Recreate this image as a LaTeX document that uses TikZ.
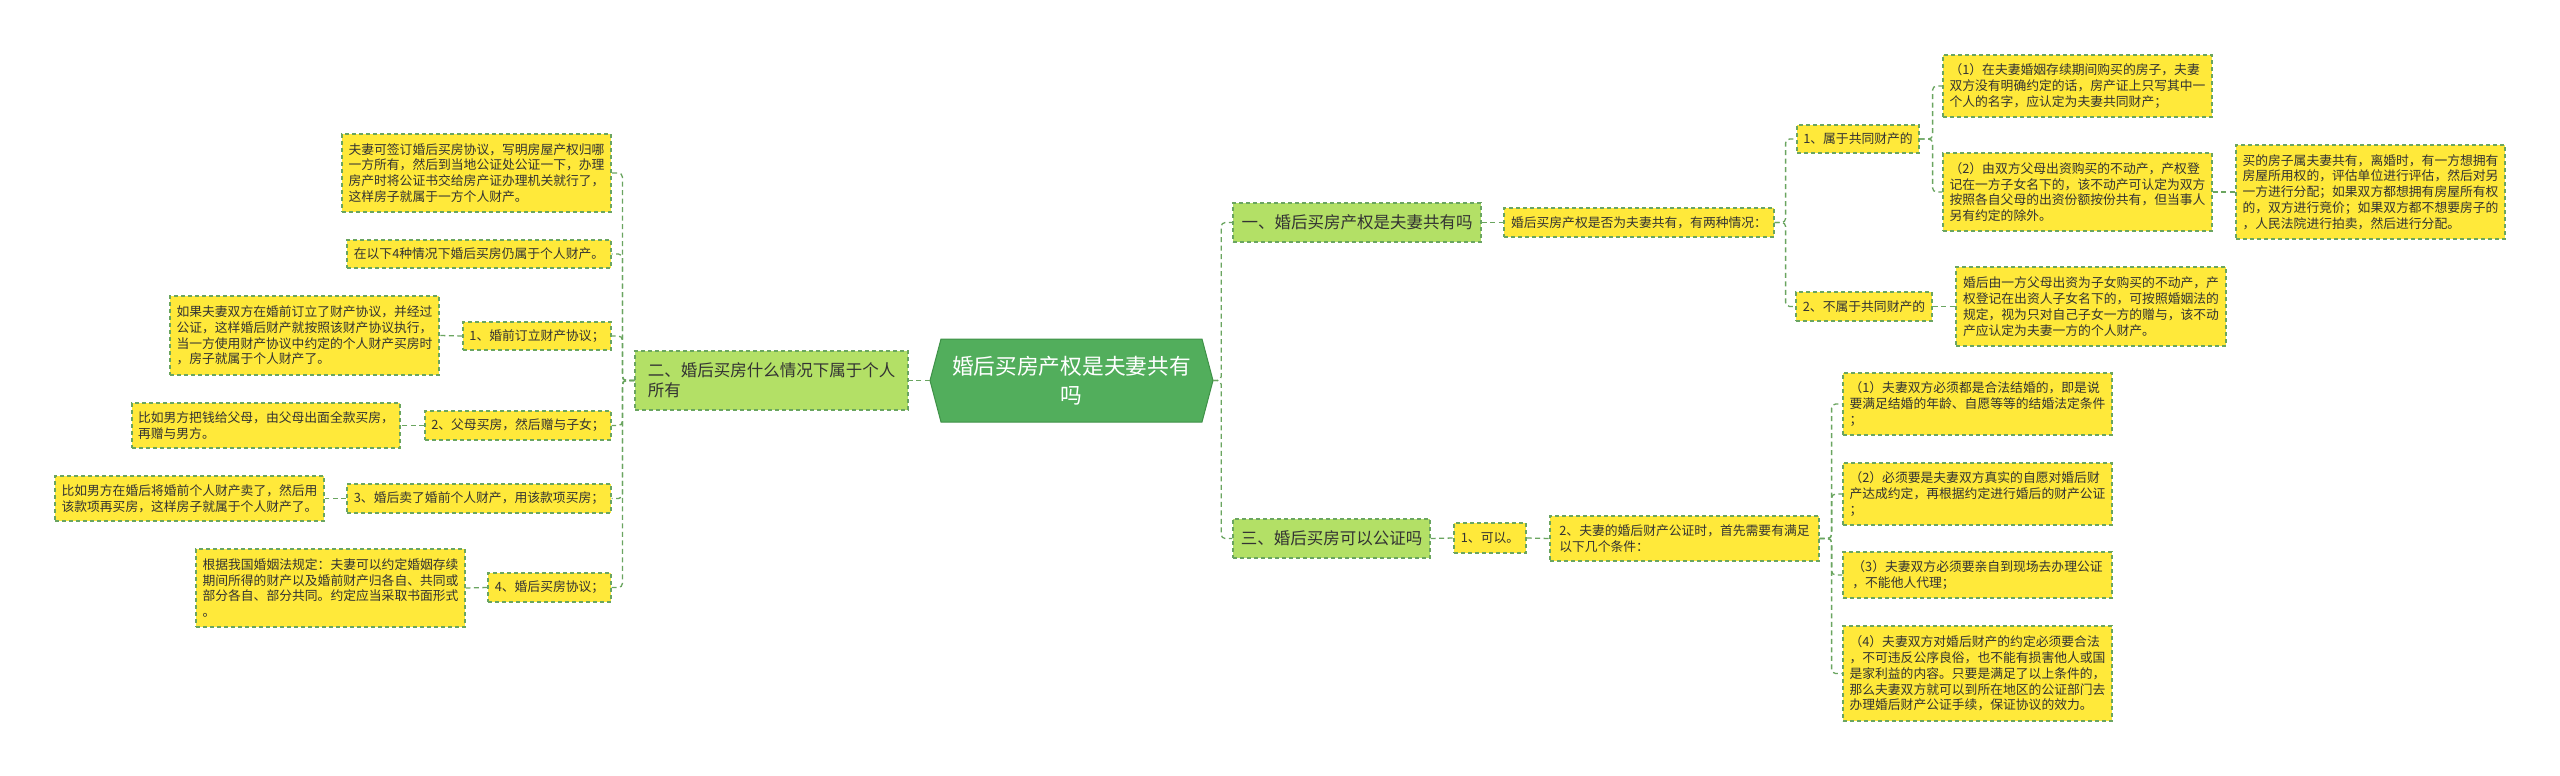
\documentclass[tikz,border=0pt]{standalone}
\usepackage{fontspec}
\setmainfont{Noto Sans CJK SC}
\definecolor{yel}{HTML}{FFE93A}
\definecolor{lgr}{HTML}{B3E066}
\definecolor{bdr}{HTML}{6AA560}
\definecolor{cgr}{HTML}{52AE5C}
\definecolor{cbd}{HTML}{3F9148}
\definecolor{txt}{HTML}{333333}
\tikzset{
  conn/.style={draw=bdr, line width=1.3pt, dash pattern=on 5pt off 3.5pt, rounded corners=4pt},
  boxbase/.style={draw=bdr, line width=1.2pt, dash pattern=on 4pt off 3pt, inner sep=0pt, align=left, text=txt},
  ybox/.style={boxbase, fill=yel, font=\fontsize{12.8}{15.8}\selectfont},
  gbox/.style={boxbase, fill=lgr, font=\fontsize{16.5}{20}\selectfont},
}
\newcommand\bx[7]{\node[#6, minimum width={#4-#2}, minimum height={#5-#3}] (#1) at ({(#2+#4)/2},{(#3+#5)/2}) {#7};}
\begin{document}
\begin{tikzpicture}[x=1pt,y=-1pt]
\fill[white] (0,0) rectangle (2560,776);
\useasboundingbox (0,0) rectangle (2560,776);
% central
\draw[fill=cgr, draw=cbd, line width=1pt] (930,380.5) -- (941,339) -- (1202,339) -- (1213,380.5) -- (1202,422) -- (941,422) -- cycle;
\node[minimum width=283, minimum height=83, inner sep=0pt, align=center, text=white, font=\fontsize{21.7}{29}\selectfont] (c) at (1071.5,380.5) {婚后买房产权是夫妻共有\\吗};
% left side
\bx{er}{635}{351}{908}{410}{gbox}{二、婚后买房什么情况下属于个人\\所有}
\bx{A}{342}{134}{611}{212}{ybox}{夫妻可签订婚后买房协议，写明房屋产权归哪\\一方所有，然后到当地公证处公证一下，办理\\房产时将公证书交给房产证办理机关就行了，\\这样房子就属于一方个人财产。}
\bx{B}{347}{240}{611}{268}{ybox}{在以下4种情况下婚后买房仍属于个人财产。}
\bx{D}{463}{322}{611}{350}{ybox}{1、婚前订立财产协议；}
\bx{C}{170}{296}{439}{375}{ybox}{如果夫妻双方在婚前订立了财产协议，并经过\\公证，这样婚后财产就按照该财产协议执行，\\当一方使用财产协议中约定的个人财产买房时\\，房子就属于个人财产了。}
\bx{F}{425}{411}{611}{440}{ybox}{2、父母买房，然后赠与子女；}
\bx{E}{132}{403}{400}{448}{ybox}{比如男方把钱给父母，由父母出面全款买房，\\再赠与男方。}
\bx{H}{347}{484}{611}{513}{ybox}{3、婚后卖了婚前个人财产，用该款项买房；}
\bx{G}{55}{476}{324}{521}{ybox}{比如男方在婚后将婚前个人财产卖了，然后用\\该款项再买房，这样房子就属于个人财产了。}
\bx{J}{488}{573}{611}{602}{ybox}{4、婚后买房协议；}
\bx{I}{196}{549}{465}{627}{ybox}{根据我国婚姻法规定：夫妻可以约定婚姻存续\\期间所得的财产以及婚前财产归各自、共同或\\部分各自、部分共同。约定应当采取书面形式\\。}
% right side
\bx{one}{1233}{203}{1481}{242}{gbox}{一、婚后买房产权是夫妻共有吗}
\bx{q}{1504}{208}{1774}{237}{ybox}{婚后买房产权是否为夫妻共有，有两种情况：}
\bx{pa}{1797}{125}{1919}{153}{ybox}{1、属于共同财产的}
\bx{pb}{1796}{292}{1932}{321}{ybox}{2、不属于共同财产的}
\bx{sa}{1943}{55}{2212}{117}{ybox}{（1）在夫妻婚姻存续期间购买的房子，夫妻\\双方没有明确约定的话，房产证上只写其中一\\个人的名字，应认定为夫妻共同财产；}
\bx{sb}{1943}{153}{2212}{231}{ybox}{（2）由双方父母出资购买的不动产，产权登\\记在一方子女名下的，该不动产可认定为双方\\按照各自父母的出资份额按份共有，但当事人\\另有约定的除外。}
\bx{t}{2236}{145}{2505}{239}{ybox}{买的房子属夫妻共有，离婚时，有一方想拥有\\房屋所用权的，评估单位进行评估，然后对另\\一方进行分配；如果双方都想拥有房屋所有权\\的，双方进行竞价；如果双方都不想要房子的\\，人民法院进行拍卖，然后进行分配。}
\bx{u}{1956}{267}{2226}{346}{ybox}{婚后由一方父母出资为子女购买的不动产，产\\权登记在出资人子女名下的，可按照婚姻法的\\规定，视为只对自己子女一方的赠与，该不动\\产应认定为夫妻一方的个人财产。}
\bx{three}{1233}{519}{1430}{558}{gbox}{三、婚后买房可以公证吗}
\bx{ka}{1454}{523}{1526}{553}{ybox}{1、可以。}
\bx{kb}{1550}{516}{1819}{561}{ybox}{2、夫妻的婚后财产公证时，首先需要有满足\\以下几个条件：}
\bx{ra}{1843}{373}{2112}{435}{ybox}{（1）夫妻双方必须都是合法结婚的，即是说\\要满足结婚的年龄、自愿等等的结婚法定条件\\；}
\bx{rb}{1843}{463}{2112}{525}{ybox}{（2）必须要是夫妻双方真实的自愿对婚后财\\产达成约定，再根据约定进行婚后的财产公证\\；}
\bx{rc}{1843}{552}{2112}{598}{ybox}{（3）夫妻双方必须要亲自到现场去办理公证\\，不能他人代理；}
\bx{rd}{1843}{626}{2112}{721}{ybox}{（4）夫妻双方对婚后财产的约定必须要合法\\，不可违反公序良俗，也不能有损害他人或国\\是家利益的内容。只要是满足了以上条件的，\\那么夫妻双方就可以到所在地区的公证部门去\\办理婚后财产公证手续，保证协议的效力。}
% connectors left
\draw[conn] (c.west) -- (er.east);
\foreach \n in {A,B,D,F,H,J} \draw[conn] (er.west) -- ++(-12,0) |- (\n.east);
\draw[conn] (D.west) -- (C.east);
\draw[conn] (F.west) -- (E.east);
\draw[conn] (H.west) -- (G.east);
\draw[conn] (J.west) -- (I.east);
% connectors right
\draw[conn] (c.east) -- ++(8,0) |- (one.west);
\draw[conn] (c.east) -- ++(8,0) |- (three.west);
\draw[conn] (one.east) -- (q.west);
\draw[conn] (q.east) -- ++(11,0) |- (pa.west);
\draw[conn] (q.east) -- ++(11,0) |- (pb.west);
\draw[conn] (pa.east) -- ++(13,0) |- (sa.west);
\draw[conn] (pa.east) -- ++(13,0) |- (sb.west);
\draw[conn] (sb.east) -- (t.west);
\draw[conn] (pb.east) -- (u.west);
\draw[conn] (three.east) -- (ka.west);
\draw[conn] (ka.east) -- (kb.west);
\foreach \n in {ra,rb,rc,rd} \draw[conn] (kb.east) -- ++(12,0) |- (\n.west);
\end{tikzpicture}
\end{document}
